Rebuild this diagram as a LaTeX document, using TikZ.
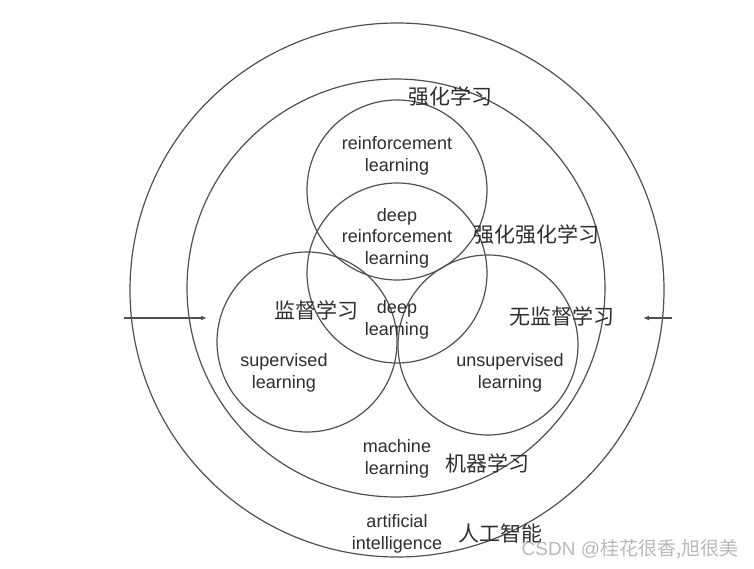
\documentclass[tikz,border=0pt]{standalone}
\usepackage{fontspec}
\setmainfont{Liberation Sans}
\newfontfamily\cjk{Noto Sans CJK SC}
\usetikzlibrary{arrows.meta}
\definecolor{linec}{HTML}{505050}
\definecolor{txt}{HTML}{2E2E2E}
\begin{document}
\begin{tikzpicture}[x=1pt,y=-1pt,
  ring/.style={circle, draw=linec, line width=1.2pt, inner sep=0pt},
  en/.style={align=center, font=\fontsize{18}{21.5}\selectfont, text=txt, inner sep=0pt},
  zh/.style={font=\cjk\fontsize{21}{24}\selectfont, text=txt, inner sep=0pt},
  arr/.style={draw=linec, line width=1.2pt, -{Latex[length=6pt,width=5pt]}}]
\useasboundingbox[fill=white] (0,0) rectangle (754,569);
% circles
\node[ring, minimum size=534pt] (ai) at (397,290) {};
\node[ring, minimum size=418pt] (ml) at (396,288) {};
\node[ring, minimum size=180pt] (rl) at (397,190) {};
\node[ring, minimum size=180pt] (dl) at (397,273) {};
\node[ring, minimum size=180pt] (sl) at (307,342) {};
\node[ring, minimum size=180pt] (ul) at (488,345) {};
% arrows
\coordinate (la) at (124,318);
\coordinate (lb) at (207,318);
\coordinate (ra) at (672,318);
\coordinate (rb) at (643,318);
\draw[arr] (la) -- (lb);
\draw[arr] (ra) -- (rb);
% labels
\node[zh] (t1) at (450,97) {强化学习};
\node[en] (t2) at (397,156) {reinforcement\\learning};
\node[en] (t3) at (397,238) {deep\\reinforcement\\learning};
\node[zh] (t4) at (536,235) {强化强化学习};
\node[zh] (t5) at (316,310) {监督学习};
\node[en] (t6) at (397,320) {deep\\learning};
\node[zh] (t7) at (562,316) {无监督学习};
\node[en] (t8) at (284,373) {supervised\\learning};
\node[en] (t9) at (510,373) {unsupervised\\learning};
\node[en] (t10) at (397,459) {machine\\learning};
\node[zh] (t11) at (487,463) {机器学习};
\node[en] (t12) at (397,534) {artificial\\intelligence};
\node[zh] (t13) at (500,533) {人工智能};
\node[font=\fontsize{19}{22}\selectfont, text=gray!55, inner sep=0pt] (wm) at (630,549) {CSDN @{\cjk 桂花很香,旭很美}};
\end{tikzpicture}
\end{document}
